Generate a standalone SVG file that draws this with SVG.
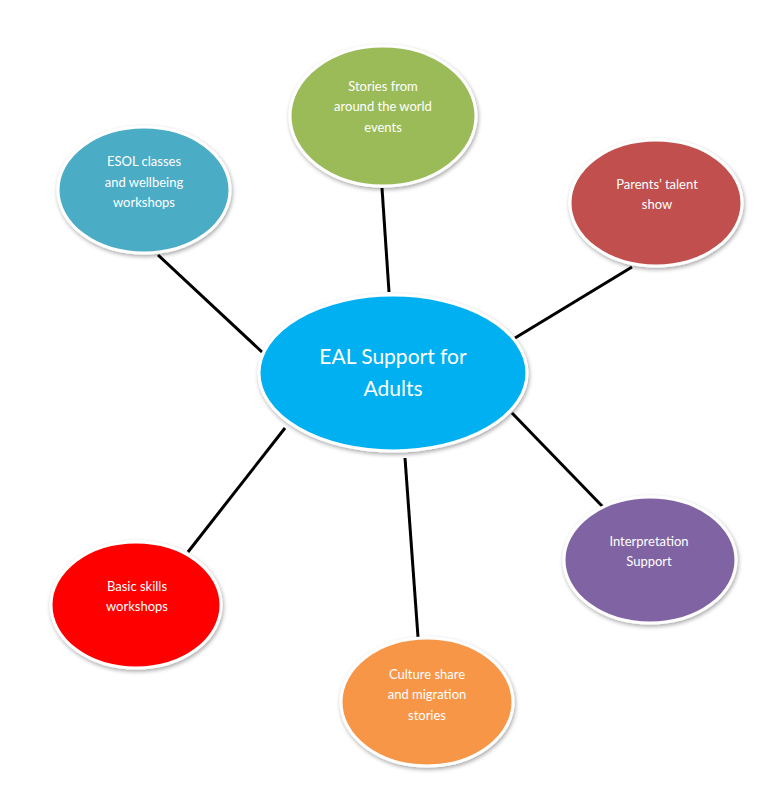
<svg xmlns="http://www.w3.org/2000/svg" width="774" height="805" viewBox="0 0 774 805">
<defs>
<filter id="sh" x="-10%" y="-10%" width="125%" height="130%">
<feGaussianBlur in="SourceAlpha" stdDeviation="2"/>
<feOffset dx="1" dy="2" result="b"/>
<feComponentTransfer><feFuncA type="linear" slope="0.35"/></feComponentTransfer>
<feMerge><feMergeNode/><feMergeNode in="SourceGraphic"/></feMerge>
</filter>
</defs>
<style>
.n{stroke:#fff;stroke-width:3;filter:url(#sh)}
.t{font-family:Lato,"Open Sans","Liberation Sans",sans-serif;font-size:13px;fill:#fff;text-anchor:middle}
.tc{font-family:Lato,"Open Sans","Liberation Sans",sans-serif;font-size:21px;fill:#fff;text-anchor:middle}
.c{stroke:#000;stroke-width:3;fill:none}
</style>
<rect width="774" height="805" fill="#fff"/>
<g id="connectors">
<line class="c" x1="158" y1="255" x2="262" y2="352"/>
<line class="c" x1="382" y1="188" x2="389" y2="292"/>
<line class="c" x1="632" y1="267" x2="515" y2="338"/>
<line class="c" x1="512" y1="413" x2="603" y2="507"/>
<line class="c" x1="285" y1="428" x2="188" y2="552"/>
<line class="c" x1="405" y1="458" x2="418" y2="637"/>
</g>
<g id="center">
<ellipse class="n" cx="393" cy="373" rx="134" ry="78" fill="#00B0F0"/>
<text class="tc" x="393" y="364">EAL Support for</text>
<text class="tc" x="393" y="396">Adults</text>
</g>
<g id="esol">
<ellipse class="n" cx="144" cy="190" rx="86" ry="63" fill="#4BACC6"/>
<text class="t" x="144" y="166">ESOL classes</text>
<text class="t" x="144" y="187">and wellbeing</text>
<text class="t" x="144" y="207">workshops</text>
</g>
<g id="stories">
<ellipse class="n" cx="383" cy="116" rx="93" ry="70" fill="#9BBB59"/>
<text class="t" x="383" y="91">Stories from</text>
<text class="t" x="383" y="111">around the world</text>
<text class="t" x="383" y="132">events</text>
</g>
<g id="parents">
<ellipse class="n" cx="656" cy="203" rx="86" ry="63" fill="#C0504D"/>
<text class="t" x="657" y="189">Parents’ talent</text>
<text class="t" x="657" y="209">show</text>
</g>
<g id="interpretation">
<ellipse class="n" cx="650" cy="560" rx="86" ry="63" fill="#8064A2"/>
<text class="t" x="649" y="546">Interpretation</text>
<text class="t" x="649" y="566">Support</text>
</g>
<g id="basic">
<ellipse class="n" cx="136" cy="605" rx="85" ry="63" fill="#FF0000"/>
<text class="t" x="137" y="591">Basic skills</text>
<text class="t" x="137" y="611">workshops</text>
</g>
<g id="culture">
<ellipse class="n" cx="427" cy="702" rx="86" ry="64" fill="#F79646"/>
<text class="t" x="427" y="679">Culture share</text>
<text class="t" x="427" y="699">and migration</text>
<text class="t" x="427" y="720">stories</text>
</g>
</svg>
